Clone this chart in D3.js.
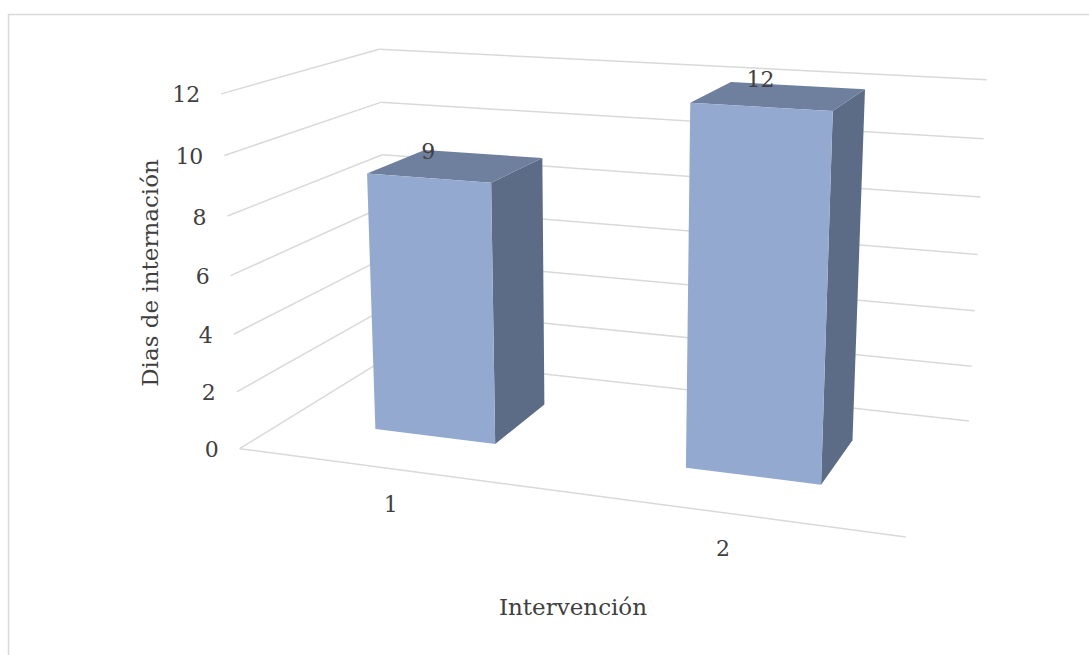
<!DOCTYPE html>
<html><head><meta charset="utf-8">
<script src="https://cdn.jsdelivr.net/npm/d3@7"></script>
<style>body{margin:0;background:#fff} svg{display:block} text{font-family:"DejaVu Serif",serif;fill:#404040}</style>
</head><body><svg id="c" width="1089" height="655"></svg>
<script>
const categories = ["1","2"];
const values = [9, 12];
const yTicks = [0,2,4,6,8,10,12];
const yTitle = "Dias de internación";
const xTitle = "Intervención";

const svg = d3.select("#c");
// world coordinates: X (categories) 0..1, Y (value) 0..1, Z (depth, front 0 -> back 1)
const x = d3.scaleBand().domain(categories).range([0,1]).paddingInner(0.6).paddingOuter(0.3);
const y = d3.scaleLinear().domain([0,12]).range([0,1]);
const zFront = 0.3, zBack = 0.7;

// perspective camera (3x4 projection matrix) for the 3-D view
const CAMERA = [
 [558.40913, -29.13630, 211.17602, 239.62582],
 [24.40062, -359.33037, -34.55618, 448.65184],
 [-0.11889, -0.04830, 0.16047, 1]
];
function proj(X,Y,Z){const P=CAMERA;const w=P[2][0]*X+P[2][1]*Y+P[2][2]*Z+P[2][3];
 return [(P[0][0]*X+P[0][1]*Y+P[0][2]*Z+P[0][3])/w,(P[1][0]*X+P[1][1]*Y+P[1][2]*Z+P[1][3])/w];}

svg.append("rect").attr("x",8.5).attr("y",14.5).attr("width",1200).attr("height",800).attr("fill","#fff").attr("stroke","#d9d9d9").attr("stroke-width",1.5);

const line = d3.line();
const grid = svg.append("g").attr("fill","none").attr("stroke","#d9d9d9").attr("stroke-width",1.5);
yTicks.forEach(t=>{
 grid.append("path").attr("d",line([proj(0,y(t),0),proj(0,y(t),1)]));
 grid.append("path").attr("d",line([proj(0,y(t),1),proj(1,y(t),1)]));
});
grid.append("path").attr("d",line([proj(0,0,0),proj(1,0,0)]));

svg.append("g").selectAll("text").data(yTicks).join("text")
 .attr("x",t=>proj(0,y(t),0)[0]-21).attr("y",t=>proj(0,y(t),0)[1]+1)
 .attr("text-anchor","end").attr("dominant-baseline","central").style("font-size","22px").text(t=>t);

const bars = categories.map((c,i)=>({c,v:values[i],x0:x(c),x1:x(c)+x.bandwidth(),h:y(values[i])}));
const poly = pts => "M"+pts.map(q=>proj(...q).join(",")).join("L")+"Z";
const bg = svg.append("g");
bars.forEach(d=>{
 bg.append("path").attr("d",poly([[d.x1,0,zFront],[d.x1,0,zBack],[d.x1,d.h,zBack],[d.x1,d.h,zFront]])).attr("fill","#5c6b86");
 bg.append("path").attr("d",poly([[d.x0,d.h,zFront],[d.x1,d.h,zFront],[d.x1,d.h,zBack],[d.x0,d.h,zBack]])).attr("fill","#6f7f9e");
 bg.append("path").attr("d",poly([[d.x0,0,zFront],[d.x1,0,zFront],[d.x1,d.h,zFront],[d.x0,d.h,zFront]])).attr("fill","#94a9d0");
});
svg.append("g").selectAll("text").data(bars).join("text")
 .attr("x",d=>proj((d.x0+d.x1)/2,d.h,zFront)[0]).attr("y",d=>proj((d.x0+d.x1)/2,d.h,zFront)[1]-27)
 .attr("text-anchor","middle").attr("dominant-baseline","central").style("font-size","22px").text(d=>d.v);

svg.append("g").selectAll("text").data(categories).join("text")
 .attr("x",c=>proj(x(c)+x.bandwidth()/2,0,0)[0]).attr("y",c=>proj(x(c)+x.bandwidth()/2,0,0)[1]+36)
 .attr("text-anchor","middle").attr("dominant-baseline","central").style("font-size","22px").text(c=>c);

svg.append("text").attr("x",573).attr("y",607).attr("text-anchor","middle").attr("dominant-baseline","central").style("font-size","23px").text(xTitle);
svg.append("text").attr("transform","translate(150,273) rotate(-90)").attr("text-anchor","middle").attr("dominant-baseline","central").style("font-size","23px").text(yTitle);
</script></body></html>
